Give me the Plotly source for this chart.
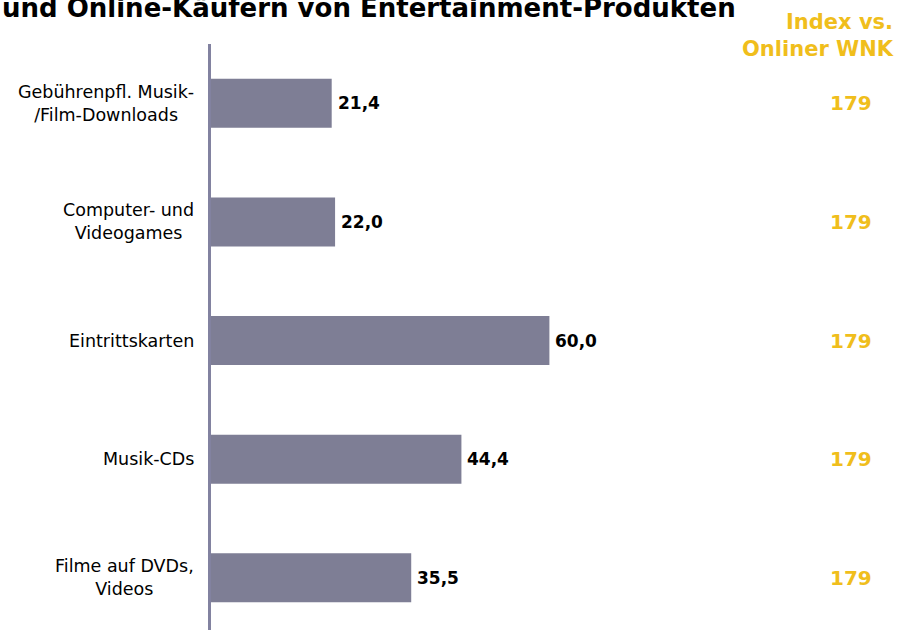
import plotly.graph_objects as go

# Entertainment product categories (top to bottom) and shares in %
categories = [
    "Gebührenpfl. Musik-<br>/Film-Downloads",
    "Computer- und<br>Videogames",
    "Eintrittskarten",
    "Musik-CDs",
    "Filme auf DVDs,<br>Videos",
]
shares = [21.4, 22.0, 60.0, 44.4, 35.5]
index_vs_onliner = [179, 179, 179, 179, 179]

title_text = "und Online-Käufern von Entertainment-Produkten"
index_header = "Index vs.<br>Onliner WNK"

BAR_COLOR = "#7e7e95"
AXIS_COLOR = "#8282a0"
GOLD = "#f0be1c"
FONT = "DejaVu Sans"

W, H = 897, 630
ML, MR, MT, MB = 211, 177, 44, 0
plot_w = W - ML - MR
plot_h = H - MT - MB
PX_PER_UNIT = 5.64

fig = go.Figure()
fig.add_trace(go.Bar(
    y=categories,
    x=shares,
    orientation="h",
    marker=dict(color=BAR_COLOR, line=dict(width=0)),
    hoverinfo="skip",
))

annotations = []
# value labels just right of each bar end (German decimal comma)
for cat, v in zip(categories, shares):
    annotations.append(dict(
        xref="x", yref="y", x=v, y=cat, xshift=4,
        xanchor="left", yanchor="middle",
        text="<b>" + f"{v:.1f}".replace(".", ",") + "</b>", showarrow=False,
        font=dict(family=FONT, size=17, color="#000000"),
    ))
# category labels, centred lines, right edge left of the axis
for cat in categories:
    annotations.append(dict(
        xref="paper", yref="y", x=0, y=cat, xshift=-15,
        xanchor="right", yanchor="middle", align="center",
        text=cat, showarrow=False,
        font=dict(family=FONT, size=17.5, color="#000000"),
    ))
# index column
for cat, idx in zip(categories, index_vs_onliner):
    annotations.append(dict(
        xref="paper", yref="y", x=(851 - ML) / plot_w, y=cat,
        xanchor="center", yanchor="middle",
        text=f"<b>{idx}</b>", showarrow=False,
        font=dict(family=FONT, size=20, color=GOLD),
    ))
annotations.append(dict(
    xref="paper", yref="paper", x=(896 - ML) / plot_w, y=1 - 19 / plot_h,
    xanchor="right", yanchor="bottom", align="right",
    text=f"<b>{index_header}</b>", showarrow=False,
    font=dict(family=FONT, size=21, color=GOLD),
))
annotations.append(dict(
    xref="paper", yref="paper", x=-ML / plot_w, y=1 + (MT + 9) / plot_h,
    xanchor="left", yanchor="top", align="left",
    text=f"<b>{title_text}</b>", showarrow=False,
    font=dict(family=FONT, size=26, color="#000000"),
))

fig.update_layout(
    width=W, height=H,
    margin=dict(l=ML, r=MR, t=MT, b=MB, pad=0),
    paper_bgcolor="white", plot_bgcolor="white",
    showlegend=False,
    bargap=0.587,
    annotations=annotations,
    xaxis=dict(range=[0, plot_w / PX_PER_UNIT], visible=False, fixedrange=True),
    yaxis=dict(
        type="category",
        categoryorder="array", categoryarray=categories,
        range=[4.44, -0.5],
        showticklabels=False, ticks="",
        showgrid=False, zeroline=False,
        showline=True, linecolor=AXIS_COLOR, linewidth=3,
        fixedrange=True,
    ),
)

fig.write_html("out.html")
